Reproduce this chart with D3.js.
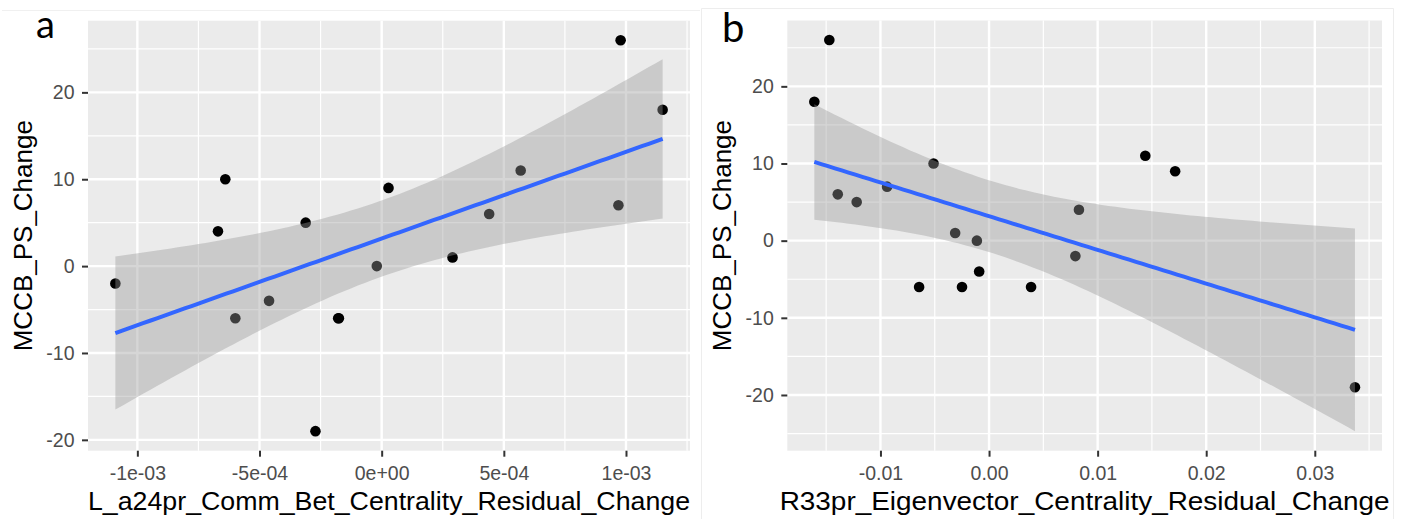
<!DOCTYPE html>
<html>
<head>
<meta charset="utf-8">
<script src="https://cdn.jsdelivr.net/npm/d3@7"></script>
<style>
  html, body { margin: 0; padding: 0; background: #ffffff; }
  svg { display: block; }
</style>
</head>
<body>
<svg id="chart" width="1407" height="519"></svg>
<script>
// ---------------- data ----------------
const panelLabels = ["a", "b"];
const xTitles = ["L_a24pr_Comm_Bet_Centrality_Residual_Change", "R33pr_Eigenvector_Centrality_Residual_Change"];
const yTitle = "MCCB_PS_Change";

const panelAX = [0.978e-3, 1.150e-3, -0.640e-3, -0.670e-3, -0.311e-3, 0.028e-3, 0.569e-3, 0.440e-3, 0.969e-3, 0.290e-3, -1.090e-3, -0.599e-3, -0.461e-3, -0.178e-3, -0.175e-3, -0.020e-3, -0.271e-3];
const panelAY = [26, 18, 10, 4, 5, 9, 11, 6, 7, 1, -2, -6, -4, -6, -6, 0, -19];

const panelBX = [-0.01471, -0.01609, -0.01393, -0.01219, -0.00939, -0.00511, 0.01439, 0.01714, 0.00828, -0.00312, -0.00112, 0.00795, -0.00644, -0.00249, -0.00091, 0.00387, 0.0337];
const panelBY = [26, 18, 6, 5, 7, 10, 11, 9, 4, 1, 0, -2, -6, -6, -4, -6, -19];

const xTicksA = [-1e-3, -5e-4, 0, 5e-4, 1e-3];
const xTickLabelsA = ["-1e-03", "-5e-04", "0e+00", "5e-04", "1e-03"];
const xTicksB = [-0.01, 0, 0.01, 0.02, 0.03];
const xTickLabelsB = ["-0.01", "0.00", "0.01", "0.02", "0.03"];
const yTicks = [-20, -10, 0, 10, 20];
const yTickLabels = ["-20", "-10", "0", "10", "20"];

const T_CRIT = 2.131; // qt(0.975, df = 15), 95% confidence band of lm

// ---------------- helpers ----------------
function lmBand(xs, ys, nOut) {
  const n = xs.length;
  const mx = d3.mean(xs), my = d3.mean(ys);
  let sxx = 0, sxy = 0;
  for (let i = 0; i < n; i++) { sxx += (xs[i] - mx) ** 2; sxy += (xs[i] - mx) * (ys[i] - my); }
  const b = sxy / sxx, a = my - b * mx;
  let sse = 0;
  for (let i = 0; i < n; i++) sse += (ys[i] - (a + b * xs[i])) ** 2;
  const s = Math.sqrt(sse / (n - 2));
  const [x0, x1] = d3.extent(xs);
  const out = [];
  for (let k = 0; k < nOut; k++) {
    const x = x0 + (x1 - x0) * k / (nOut - 1);
    const fit = a + b * x;
    const se = s * Math.sqrt(1 / n + (x - mx) ** 2 / sxx);
    out.push({ x, fit, lo: fit - T_CRIT * se, hi: fit + T_CRIT * se });
  }
  return out;
}
function expand(ext) { const d = (ext[1] - ext[0]) * 0.05; return [ext[0] - d, ext[1] + d]; }
function minors(ticks, domain) {
  const step = ticks[1] - ticks[0];
  const res = [];
  for (let v = ticks[0] - step / 2; v <= ticks[ticks.length - 1] + step; v += step) {
    if (v >= domain[0] && v <= domain[1]) res.push(v);
  }
  return res;
}

const svg = d3.select("#chart");

// faint frames of the two pasted figure images
svg.append("line").attr("x1", 2).attr("x2", 700).attr("y1", 10.5).attr("y2", 10.5).attr("stroke", "#f0f0f0").attr("stroke-width", 1);
svg.append("path").attr("d", "M701.5,519 V8.5 H1393.5 V519").attr("fill", "none").attr("stroke", "#ededed").attr("stroke-width", 1);

function drawPanel(cfg) {
  const band = lmBand(cfg.xs, cfg.ys, 80);
  const xDom = expand(d3.extent(cfg.xs));
  const yDom = expand([d3.min([d3.min(cfg.ys), d3.min(band, d => d.lo)]), d3.max([d3.max(cfg.ys), d3.max(band, d => d.hi)])]);
  const x = d3.scaleLinear().domain(xDom).range([cfg.left, cfg.right]);
  const y = d3.scaleLinear().domain(yDom).range([cfg.bottom, cfg.top]);
  const g = svg.append("g");

  g.append("rect").attr("x", cfg.left).attr("y", cfg.top)
    .attr("width", cfg.right - cfg.left).attr("height", cfg.bottom - cfg.top).attr("fill", "#EBEBEB");

  const grid = g.append("g").attr("stroke", "#ffffff");
  grid.selectAll(".mx").data(minors(cfg.xTicks, xDom)).join("line")
    .attr("x1", d => x(d)).attr("x2", d => x(d)).attr("y1", cfg.top).attr("y2", cfg.bottom).attr("stroke-width", 1.2);
  grid.selectAll(".my").data(minors(yTicks, yDom)).join("line")
    .attr("y1", d => y(d)).attr("y2", d => y(d)).attr("x1", cfg.left).attr("x2", cfg.right).attr("stroke-width", 1.2);
  grid.selectAll(".Mx").data(cfg.xTicks).join("line")
    .attr("x1", d => x(d)).attr("x2", d => x(d)).attr("y1", cfg.top).attr("y2", cfg.bottom).attr("stroke-width", 2.4);
  grid.selectAll(".My").data(yTicks).join("line")
    .attr("y1", d => y(d)).attr("y2", d => y(d)).attr("x1", cfg.left).attr("x2", cfg.right).attr("stroke-width", 2.4);

  // points
  g.append("g").selectAll("circle").data(cfg.xs.map((v, i) => [v, cfg.ys[i]])).join("circle")
    .attr("cx", d => x(d[0])).attr("cy", d => y(d[1])).attr("r", 5.3).attr("fill", "#000000");

  // confidence ribbon (drawn over the points, like ggplot)
  g.append("path").datum(band)
    .attr("d", d3.area().x(d => x(d.x)).y0(d => y(d.lo)).y1(d => y(d.hi)))
    .attr("fill", "#999999").attr("fill-opacity", 0.4);
  // fit line
  g.append("path").datum(band)
    .attr("d", d3.line().x(d => x(d.x)).y(d => y(d.fit)))
    .attr("fill", "none").attr("stroke", "#3366FF").attr("stroke-width", 4);

  // axes
  const xAxis = d3.axisBottom(x).tickValues(cfg.xTicks)
    .tickFormat((d, i) => cfg.xTickLabels[i]).tickSize(6).tickPadding(9.5);
  const yAxis = d3.axisLeft(y).tickValues(yTicks)
    .tickFormat((d, i) => yTickLabels[i]).tickSize(6).tickPadding(7.5);
  const gx = g.append("g").attr("transform", `translate(0,${cfg.bottom})`).call(xAxis);
  const gy = g.append("g").attr("transform", `translate(${cfg.left},0)`).call(yAxis);
  [gx, gy].forEach(ax => {
    ax.select(".domain").remove();
    ax.selectAll(".tick line").attr("stroke", "#333333").attr("stroke-width", 2);
    ax.selectAll(".tick text").attr("fill", "#4D4D4D")
      .style("font-family", "'Liberation Sans', Arial, sans-serif").style("font-size", "19.5px");
  });

  // titles
  g.append("text").attr("x", (cfg.left + cfg.right) / 2).attr("y", cfg.bottom + 59)
    .attr("text-anchor", "middle").attr("fill", "#000")
    .style("font-family", "'Liberation Sans', Arial, sans-serif").style("font-size", "26px")
    .attr("textLength", cfg.titleLen).attr("lengthAdjust", "spacingAndGlyphs")
    .text(cfg.xTitle);
  g.append("text").attr("transform", `translate(${cfg.left - 56.5},${(cfg.top + cfg.bottom) / 2}) rotate(-90)`)
    .attr("text-anchor", "middle").attr("fill", "#000")
    .style("font-family", "'Liberation Sans', Arial, sans-serif").style("font-size", "26px")
    .text(yTitle);

  // panel letter
  g.append("text").attr("x", cfg.labelX).attr("y", cfg.labelY).attr("fill", "#000")
    .style("font-family", "Lato, 'Open Sans', sans-serif").style("font-size", cfg.labelSize)
    .text(cfg.label);
}

drawPanel({
  xs: panelAX, ys: panelAY, xTicks: xTicksA, xTickLabels: xTickLabelsA,
  left: 88, right: 690, top: 20.7, bottom: 450.7,
  xTitle: xTitles[0], titleLen: 602, label: panelLabels[0], labelX: 36, labelY: 37.5, labelSize: "38px"
});
drawPanel({
  xs: panelBX, ys: panelBY, xTicks: xTicksB, xTickLabels: xTickLabelsB,
  left: 787.3, right: 1382, top: 20.5, bottom: 450.7,
  xTitle: xTitles[1], titleLen: 610, label: panelLabels[1], labelX: 722, labelY: 42, labelSize: "40px"
});
</script>
</body>
</html>
